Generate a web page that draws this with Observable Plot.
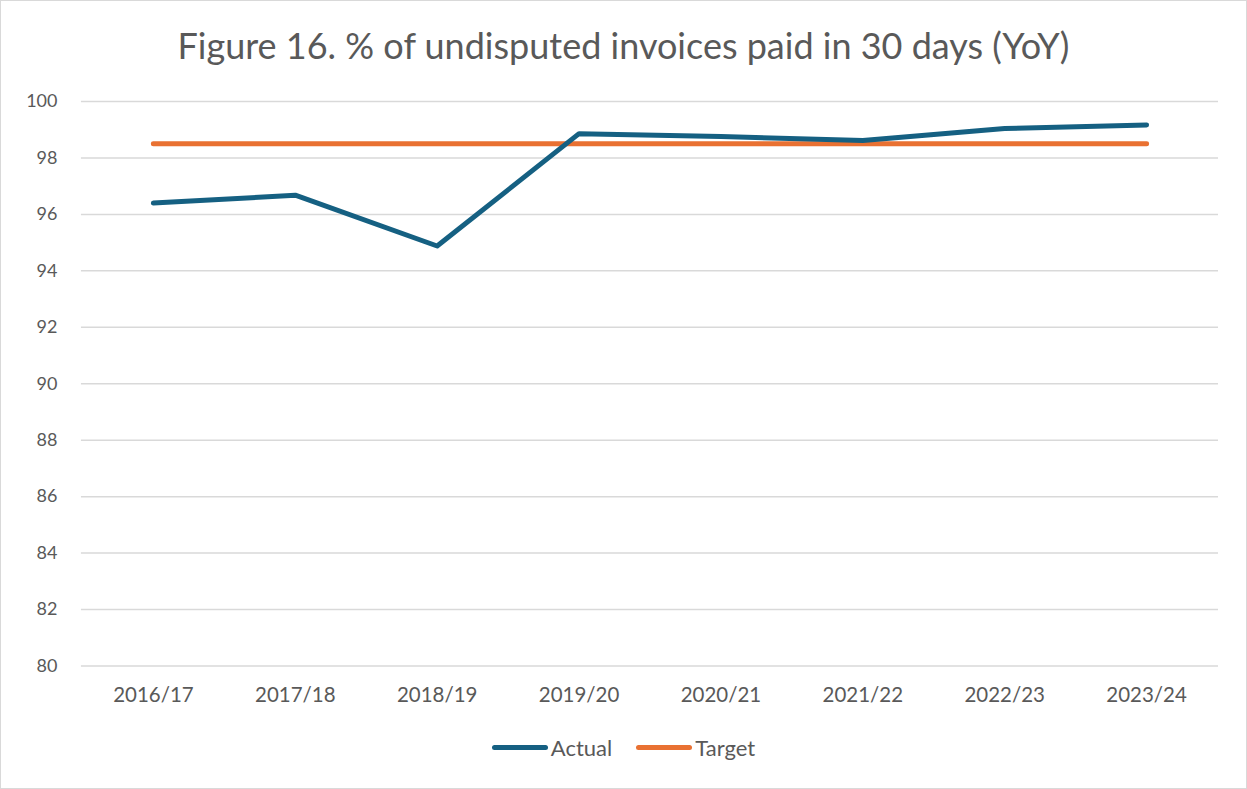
<!DOCTYPE html>
<html>
<head>
<meta charset="utf-8">
<script src="https://cdn.jsdelivr.net/npm/d3@7"></script>
<script src="https://cdn.jsdelivr.net/npm/@observablehq/plot@0.6"></script>
<style>
  body { margin: 0; background: #fff; }
  #wrap { position: relative; width: 1245px; height: 787px; border: 1px solid #d9d9d9; font-family: Lato, "Open Sans", sans-serif; color: #595959; overflow: hidden; }
  #title { position: absolute; left: 0; right: 0; top: 22px; line-height: 44px; text-align: center; font-size: 36px; color: #595959; }
  #chart { position: absolute; left: -1px; top: 79px; }
  #legend { position: absolute; left: 0; right: 0; top: 733px; display: flex; justify-content: center; align-items: center; font-size: 22px; color: #595959; }
  .item { display: flex; align-items: center; margin: 0 12px; }
  .sw { width: 56px; height: 5px; border-radius: 3px; margin-right: 3px; }
</style>
</head>
<body>
<div id="wrap">
  <div id="title">Figure 16. % of undisputed invoices paid in 30 days (YoY)</div>
  <div id="chart"></div>
  <div id="legend"></div>
</div>
<script>
const years = ["2016/17","2017/18","2018/19","2019/20","2020/21","2021/22","2022/23","2023/24"];
const actual = [96.4, 96.68, 94.88, 98.86, 98.76, 98.62, 99.04, 99.17];
const target = [98.5, 98.5, 98.5, 98.5, 98.5, 98.5, 98.5, 98.5];
const yTicks = [80, 82, 84, 86, 88, 90, 92, 94, 96, 98, 100];
const seriesNames = ["Actual", "Target"];
const seriesColors = ["#156082", "#e97132"];

const rows = [];
years.forEach((y, i) => {
  rows.push({year: y, value: actual[i], series: "Actual"});
  rows.push({year: y, value: target[i], series: "Target"});
});

const chart = Plot.plot({
  width: 1247,
  height: 640,
  marginTop: 21,
  marginBottom: 54,
  marginLeft: 81,
  marginRight: 28,
  style: { fontFamily: "Lato, 'Open Sans', sans-serif", fontSize: "18px", color: "#595959", background: "transparent" },
  x: { type: "point", domain: years, padding: 0.5, label: null },
  y: { domain: [80, 100], ticks: yTicks, label: null },
  color: { domain: seriesNames, range: seriesColors },
  marks: [
    Plot.ruleY(yTicks, { stroke: "#d9d9d9", strokeWidth: 1.5 }),
    Plot.axisY({ ticks: yTicks, tickSize: 0, tickPadding: 24, fontSize: 18, fill: "#595959", label: null }),
    Plot.axisX({ tickSize: 0, tickPadding: 21, fontSize: 20.5, fill: "#595959", label: null }),
    Plot.line(rows.filter(d => d.series === "Target"), { x: "year", y: "value", stroke: seriesColors[1], strokeWidth: 5, strokeLinecap: "round", strokeLinejoin: "round" }),
    Plot.line(rows.filter(d => d.series === "Actual"), { x: "year", y: "value", stroke: seriesColors[0], strokeWidth: 5, strokeLinecap: "round", strokeLinejoin: "round" })
  ]
});
document.getElementById("chart").appendChild(chart);

const legend = document.getElementById("legend");
seriesNames.forEach((n, i) => {
  const it = document.createElement("div");
  it.className = "item";
  const sw = document.createElement("div");
  sw.className = "sw";
  sw.style.background = seriesColors[i];
  const t = document.createElement("span");
  t.textContent = n;
  it.appendChild(sw); it.appendChild(t);
  legend.appendChild(it);
});
</script>
</body>
</html>
